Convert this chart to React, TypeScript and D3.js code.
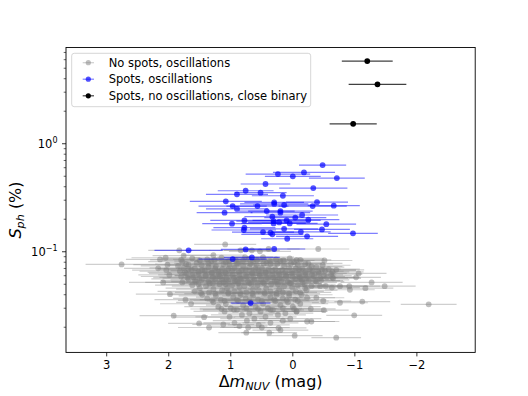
import * as d3 from 'd3';

// Blue: spots, oscillations
const blueX = [-0.48, 0.24, 0.0, -0.18, -0.71, 0.44, -0.33, 0.9, 0.76, 0.52, 0.16, 1.08, 0.97, 0.9, 1.1, 0.57, 0.3, 0.3, 0.14, 0.42, 0.2, 0.2, -0.39, -0.32, -0.66, -0.15, -0.04, 0.33, 0.98, 0.78, 0.78, 0.31, 0.31, 0.22, 0.1, 0.05, -0.25, -0.54, 0.79, 0.48, 0.36, 0.33, 0.14, -0.13, -0.23, -0.47, -0.97, 0.09, 1.68, 0.76, 0.3, 0.97, 0.66, 0.68];
const blueY = [0.635, 0.524, 0.499, 0.543, 0.481, 0.424, 0.389, 0.34, 0.367, 0.352, 0.33, 0.293, 0.265, 0.249, 0.23, 0.265, 0.287, 0.277, 0.271, 0.238, 0.238, 0.23, 0.288, 0.265, 0.267, 0.219, 0.207, 0.211, 0.182, 0.195, 0.167, 0.192, 0.183, 0.187, 0.195, 0.183, 0.198, 0.18, 0.159, 0.152, 0.15, 0.145, 0.163, 0.153, 0.139, 0.161, 0.148, 0.132, 0.103, 0.105, 0.106, 0.0856, 0.0887, 0.0335];
const blueErr = [0.38, 0.52, 0.45, 0.5, 0.45, 0.4, 0.55, 0.5, 0.45, 0.42, 0.5, 0.58, 0.55, 0.5, 0.45, 0.5, 0.48, 0.55, 0.5, 0.45, 0.52, 0.48, 0.5, 0.55, 0.42, 0.58, 0.5, 0.45, 0.48, 0.55, 0.5, 0.6, 0.52, 0.5, 0.55, 0.45, 0.5, 0.48, 0.52, 0.5, 0.45, 0.5, 0.55, 0.48, 0.5, 0.45, 0.4, 0.42, 0.55, 0.4, 0.5, 0.55, 0.45, 0.32];

// Black: spots, no oscillations, close binary
const blackX = [-1.2, -1.365, -0.973];
const blackY = [5.83, 3.55, 1.53];
const blackErr = [0.41, 0.465, 0.38];

// Gray: no spots, oscillations (rows of the dense cloud, then the scattered ones)
const grayX = [
  1.62, 1.38, 1.15, 0.92, 0.71, 0.48, 0.27, 0.05, -0.12,
  1.78, 1.55, 1.31, 1.08, 0.88, 0.64, 0.42, 0.2, -0.02, -0.25,
  1.5, 1.26, 1.03, 0.8, 0.58, 0.37, 0.15, -0.06,
  1.72, 1.36, 1.12, 0.9, 0.68, 0.47, 0.25, 0.03, -0.2,
  1.85, 1.68, 1.47, 1.24, 1.02, 0.8, 0.58, 0.36, 0.14, -0.08, -0.3, -0.48,
  1.76, 1.58, 1.36, 1.14, 0.94, 0.7, 0.5, 0.28, 0.06, -0.15, -0.38, -0.58,
  1.68, 1.46, 1.25, 1.04, 0.82, 0.6, 0.39, 0.17, -0.05, -0.27, -0.47,
  1.82, 1.63, 1.42, 1.2, 0.98, 0.76, 0.55, 0.33, 0.12, -0.1, -0.32, -0.52,
  1.72, 1.52, 1.3, 1.08, 0.86, 0.65, 0.44, 0.22, 0.0, -0.2, -0.42, -0.62,
  1.62, 1.41, 1.19, 0.97, 0.76, 0.54, 0.33, 0.11, -0.1, -0.31, -0.5,
  1.8, 1.6, 1.4, 1.17, 0.95, 0.74, 0.53, 0.31, 0.1, -0.12, -0.34, -0.55,
  1.68, 1.47, 1.25, 1.04, 0.83, 0.62, 0.4, 0.18, -0.04, -0.26, -0.46,
  1.58, 1.36, 1.14, 0.93, 0.72, 0.51, 0.29, 0.08, -0.14, -0.36,
  1.78, 1.56, 1.34, 1.12, 0.9, 0.7, 0.48, 0.26, 0.05, -0.16, -0.38,
  1.52, 1.29, 1.08, 0.88, 0.67, 0.46, 0.24, 0.03, -0.19,
  1.62, 1.4, 1.18, 0.98, 0.78, 0.57, 0.35, 0.14, -0.08, -0.3,
  1.5, 1.28, 1.06, 0.86, 0.64, 0.43, 0.22, 0.01, -0.2,
  1.58, 1.35, 1.14, 0.94, 0.75, 0.55, 0.36, 0.16, -0.05, -0.22,
  1.46, 1.24, 1.04, 0.84, 0.64, 0.45, 0.26, 0.06, -0.14,
  1.38, 1.16, 0.96, 0.76, 0.56, 0.36, 0.16, -0.04,
  1.28, 1.08, 0.88, 0.68, 0.48, 0.28, 0.08, -0.12,
  1.2, 1.0, 0.8, 0.6, 0.4, 0.2, 0.0,
  1.1, 0.9, 0.7, 0.52, 0.32, 0.12, -0.06,
  1.02, 0.82, 0.62, 0.44, 0.24, 0.04,
  0.94, 0.74, 0.55, 0.36, 0.16,
  1.48, 1.25, 1.04, 0.85, 0.65, 0.46, 0.26, 0.06, -0.12,
  1.3, 1.1, 0.9, 0.7, 0.5, 0.3, 0.1, -0.08,
  1.15, 0.95, 0.75, 0.56, 0.36, 0.16, -0.02,
  1.74, 1.52, 1.31, 1.09, 0.87, 0.66, 0.44, 0.23, 0.02, -0.2, -0.41,
  1.7, 1.5, 1.29, 1.07, 0.85, 0.64, 0.43, 0.21, 0.0, -0.22, -0.44,
  2.76, 1.09, -0.41, -0.51, -0.7, -0.64, -0.64, -1.06, -1.02, -1.27,
  -1.48, -0.91, -0.76, -1.17, -0.92, -1.12, -0.76, -0.49, -2.19, -0.99,
  -0.5, -0.7, -0.03, 0.75, 0.38, 1.35, 1.51, 1.92, 1.98, 1.43,
  1.73, 1.64, 1.83, 2.14, 2.05, 2.17, 2.09, 2.04, 1.99, 0.84,
  0.66, 0.39, 0.53, 1.28, 0.77, -0.23, -0.38, -0.3, -0.23, -0.29,
  -0.06, 0.2, 0.23, 0.86, 1.12, 0.72, 0.5, -0.44, -0.53, -0.63,
  -0.65, -0.11, 1.8, 1.76, 2.02,
];
const grayY = [
  0.087, 0.085, 0.088, 0.084, 0.086, 0.089, 0.085, 0.087, 0.084,
  0.081, 0.079, 0.082, 0.08, 0.078, 0.081, 0.079, 0.082, 0.08, 0.078,
  0.083, 0.084, 0.082, 0.083, 0.084, 0.082, 0.083, 0.084,
  0.077, 0.078, 0.077, 0.078, 0.077, 0.078, 0.077, 0.078, 0.077,
  0.074, 0.076, 0.075, 0.073, 0.076, 0.074, 0.075, 0.077, 0.074, 0.076, 0.073, 0.075,
  0.071, 0.07, 0.072, 0.069, 0.071, 0.072, 0.07, 0.069, 0.071, 0.07, 0.072, 0.069,
  0.069, 0.068, 0.07, 0.069, 0.068, 0.07, 0.069, 0.068, 0.07, 0.069, 0.068,
  0.066, 0.068, 0.067, 0.065, 0.067, 0.068, 0.066, 0.067, 0.065, 0.068, 0.066, 0.067,
  0.063, 0.062, 0.064, 0.063, 0.061, 0.063, 0.064, 0.062, 0.063, 0.061, 0.063, 0.062,
  0.061, 0.06, 0.062, 0.061, 0.06, 0.062, 0.061, 0.06, 0.062, 0.061, 0.06,
  0.059, 0.058, 0.06, 0.059, 0.057, 0.059, 0.06, 0.058, 0.059, 0.057, 0.059, 0.058,
  0.056, 0.055, 0.056, 0.054, 0.056, 0.055, 0.057, 0.055, 0.056, 0.054, 0.055,
  0.054, 0.053, 0.055, 0.054, 0.053, 0.055, 0.054, 0.053, 0.055, 0.054,
  0.052, 0.053, 0.051, 0.052, 0.053, 0.051, 0.052, 0.053, 0.051, 0.052, 0.053,
  0.05, 0.051, 0.05, 0.051, 0.05, 0.051, 0.05, 0.051, 0.05,
  0.049, 0.048, 0.05, 0.049, 0.048, 0.049, 0.05, 0.048, 0.049, 0.048,
  0.046, 0.045, 0.046, 0.047, 0.045, 0.046, 0.045, 0.047, 0.046,
  0.043, 0.042, 0.044, 0.043, 0.042, 0.044, 0.043, 0.042, 0.043, 0.044,
  0.04, 0.039, 0.041, 0.04, 0.039, 0.041, 0.04, 0.039, 0.04,
  0.037, 0.036, 0.038, 0.037, 0.036, 0.038, 0.037, 0.036,
  0.034, 0.033, 0.035, 0.034, 0.033, 0.035, 0.034, 0.033,
  0.031, 0.03, 0.032, 0.031, 0.03, 0.032, 0.031,
  0.028, 0.029, 0.027, 0.028, 0.029, 0.027, 0.028,
  0.025, 0.026, 0.024, 0.025, 0.026, 0.024,
  0.022, 0.023, 0.021, 0.022, 0.023,
  0.0415, 0.041, 0.042, 0.0415, 0.041, 0.042, 0.0415, 0.041, 0.042,
  0.0355, 0.035, 0.036, 0.0355, 0.035, 0.036, 0.0355, 0.035,
  0.0295, 0.029, 0.03, 0.0295, 0.029, 0.03, 0.0295,
  0.0645, 0.065, 0.064, 0.0645, 0.065, 0.064, 0.0645, 0.065, 0.064, 0.0645, 0.065,
  0.0575, 0.057, 0.058, 0.0575, 0.057, 0.058, 0.0575, 0.057, 0.058, 0.0575, 0.057,
  0.0764, 0.117, 0.106, 0.083, 0.068, 0.065, 0.058, 0.063, 0.058, 0.052,
  0.048, 0.048, 0.048, 0.046, 0.0445, 0.0346, 0.0337, 0.035, 0.0326, 0.0258,
  0.0288, 0.016, 0.0167, 0.0178, 0.0178, 0.0199, 0.0217, 0.0256, 0.0405, 0.0248,
  0.036, 0.033, 0.103, 0.085, 0.088, 0.0702, 0.052, 0.0677, 0.061, 0.103,
  0.103, 0.106, 0.101, 0.093, 0.089, 0.0375, 0.0375, 0.0226, 0.0226, 0.0296,
  0.028, 0.0188, 0.0197, 0.0205, 0.0212, 0.0199, 0.0199, 0.048, 0.0483, 0.0466,
  0.0567, 0.0583, 0.084, 0.092, 0.076,
];
const grayErr = [
  0.5, 0.55, 0.45, 0.5, 0.6, 0.5, 0.45, 0.55, 0.5,
  0.55, 0.5, 0.6, 0.45, 0.5, 0.55, 0.5, 0.45, 0.5, 0.55,
  0.6, 0.5, 0.55, 0.45, 0.5, 0.55, 0.5, 0.45,
  0.5, 0.55, 0.5, 0.6, 0.45, 0.5, 0.55, 0.5, 0.45,
  0.6, 0.5, 0.55, 0.5, 0.45, 0.55, 0.5, 0.6, 0.5, 0.45, 0.5, 0.45,
  0.55, 0.6, 0.5, 0.55, 0.5, 0.45, 0.55, 0.5, 0.6, 0.5, 0.45, 0.5,
  0.5, 0.55, 0.6, 0.5, 0.45, 0.5, 0.55, 0.5, 0.45, 0.5, 0.55,
  0.65, 0.5, 0.55, 0.5, 0.6, 0.5, 0.45, 0.55, 0.5, 0.45, 0.5, 0.5,
  0.6, 0.55, 0.5, 0.6, 0.5, 0.55, 0.45, 0.5, 0.55, 0.5, 0.45, 0.5,
  0.55, 0.5, 0.6, 0.5, 0.55, 0.5, 0.45, 0.5, 0.55, 0.5, 0.45,
  0.65, 0.55, 0.5, 0.55, 0.5, 0.6, 0.5, 0.55, 0.45, 0.5, 0.5, 0.45,
  0.6, 0.5, 0.55, 0.5, 0.6, 0.5, 0.55, 0.5, 0.45, 0.5, 0.45,
  0.55, 0.6, 0.5, 0.55, 0.5, 0.45, 0.55, 0.5, 0.5, 0.45,
  0.6, 0.55, 0.5, 0.6, 0.5, 0.55, 0.5, 0.45, 0.5, 0.55, 0.45,
  0.55, 0.5, 0.6, 0.5, 0.55, 0.5, 0.45, 0.5, 0.5,
  0.6, 0.55, 0.5, 0.55, 0.6, 0.5, 0.55, 0.5, 0.45, 0.5,
  0.55, 0.6, 0.5, 0.55, 0.5, 0.55, 0.5, 0.45, 0.5,
  0.6, 0.55, 0.5, 0.55, 0.5, 0.6, 0.5, 0.55, 0.45, 0.5,
  0.55, 0.6, 0.5, 0.55, 0.5, 0.55, 0.5, 0.45, 0.5,
  0.55, 0.5, 0.6, 0.5, 0.55, 0.5, 0.45, 0.5,
  0.6, 0.55, 0.5, 0.55, 0.5, 0.55, 0.5, 0.45,
  0.55, 0.5, 0.6, 0.5, 0.55, 0.5, 0.45,
  0.5, 0.55, 0.5, 0.6, 0.5, 0.45, 0.5,
  0.55, 0.5, 0.55, 0.5, 0.45, 0.5,
  0.5, 0.55, 0.5, 0.45, 0.5,
  0.55, 0.5, 0.6, 0.5, 0.55, 0.5, 0.45, 0.5, 0.5,
  0.55, 0.5, 0.6, 0.5, 0.55, 0.5, 0.45, 0.5,
  0.5, 0.55, 0.5, 0.6, 0.5, 0.45, 0.5,
  0.6, 0.5, 0.55, 0.5, 0.6, 0.5, 0.55, 0.5, 0.45, 0.5, 0.5,
  0.55, 0.6, 0.5, 0.55, 0.5, 0.55, 0.5, 0.45, 0.5, 0.5, 0.45,
  0.58, 0.5, 0.5, 0.45, 0.45, 0.5, 0.45, 0.45, 0.4, 0.5,
  0.5, 0.5, 0.45, 0.45, 0.4, 0.45, 0.45, 0.45, 0.45, 0.45,
  0.4, 0.4, 0.45, 0.45, 0.45, 0.5, 0.5, 0.55, 0.55, 0.5,
  0.5, 0.5, 0.5, 0.55, 0.55, 0.55, 0.55, 0.55, 0.5, 0.5,
  0.45, 0.5, 0.5, 0.5, 0.45, 0.45, 0.45, 0.45, 0.45, 0.4,
  0.45, 0.45, 0.45, 0.45, 0.5, 0.45, 0.45, 0.45, 0.45, 0.45,
  0.45, 0.45, 0.5, 0.5, 0.55,
];

const legendLabels = ['No spots, oscillations', 'Spots, oscillations', 'Spots, no oscillations, close binary'];
const xTicks = [3, 2, 1, 0, -1, -2];
const yMajor = [0.1, 1];

const font = 'DejaVu Sans, sans-serif';

export default function App() {
  const width = 528;
  const height = 396;
  const plot = { left: 66, right: 475.2, top: 47.5, bottom: 352.4 };

  // inverted x axis, log y axis
  const x = d3.scaleLinear().domain([3.656, -2.94]).range([plot.left, plot.right]);
  const y = d3.scaleLog().domain([0.0117, 7.78]).range([plot.bottom, plot.top]);

  const yMinor: number[] = [];
  [0.01, 0.1, 1].forEach((base) => {
    for (let k = 2; k <= 9; k++) {
      const v = base * k;
      if (v > y.domain()[0] && v < y.domain()[1]) yMinor.push(v);
    }
  });

  const series = [
    { xs: grayX, ys: grayY, es: grayErr, color: 'gray', mAlpha: 0.5, lAlpha: 0.38 },
    { xs: blueX, ys: blueY, es: blueErr, color: 'blue', mAlpha: 0.68, lAlpha: 0.5 },
    { xs: blackX, ys: blackY, es: blackErr, color: 'black', mAlpha: 1, lAlpha: 0.75 },
  ];

  const legendRows = [62.7, 79.2, 95.8];

  return (
    <svg width={width} height={height} style={{ position: 'absolute', left: 0, top: 0, background: '#fff' }} fontFamily={font}>
      <defs>
        <clipPath id='plotClip'>
          <rect x={plot.left} y={plot.top} width={plot.right - plot.left} height={plot.bottom - plot.top} />
        </clipPath>
      </defs>

      {/* Error bars and markers for each group */}
      <g clipPath='url(#plotClip)'>
        {series.map((s, si) => (
          <g key={si}>
            {s.xs.map((xv, i) =>
              s.ys[i] === undefined ? null : (
                <line
                  key={'e' + i}
                  x1={x(xv + (s.es[i] ?? 0.5))}
                  x2={x(xv - (s.es[i] ?? 0.5))}
                  y1={y(s.ys[i])}
                  y2={y(s.ys[i])}
                  stroke={s.color}
                  strokeOpacity={s.lAlpha}
                  strokeWidth={1.2}
                />
              ),
            )}
            {s.xs.map((xv, i) =>
              s.ys[i] === undefined ? null : (
                <circle key={'m' + i} cx={x(xv)} cy={y(s.ys[i])} r={2.9} fill={s.color} fillOpacity={s.mAlpha} />
              ),
            )}
          </g>
        ))}
      </g>

      {/* Frame */}
      <rect
        x={plot.left}
        y={plot.top}
        width={plot.right - plot.left}
        height={plot.bottom - plot.top}
        fill='none'
        stroke='black'
        strokeWidth={0.9}
      />

      {/* x axis */}
      {xTicks.map((t) => (
        <g key={'xt' + t}>
          <line x1={x(t)} x2={x(t)} y1={plot.bottom} y2={plot.bottom + 4} stroke='black' strokeWidth={0.8} />
          <text x={x(t)} y={368.8} fontSize={11.5} textAnchor='middle'>
            {t < 0 ? '\u2212' + Math.abs(t) : t}
          </text>
        </g>
      ))}

      {/* y axis */}
      {yMajor.map((t) => (
        <g key={'ym' + t}>
          <line x1={plot.left - 4} x2={plot.left} y1={y(t)} y2={y(t)} stroke='black' strokeWidth={0.8} />
          <text x={57.5} y={y(t) + 4} fontSize={11.5} textAnchor='end'>
            10
            <tspan dy={-5} fontSize={8}>
              {t === 1 ? '0' : '\u22121'}
            </tspan>
          </text>
        </g>
      ))}
      {yMinor.map((t) => (
        <line key={'yn' + t} x1={plot.left - 2.3} x2={plot.left} y1={y(t)} y2={y(t)} stroke='black' strokeWidth={0.6} />
      ))}

      {/* Axis labels */}
      <text x={(plot.left + plot.right) / 2} y={387} fontSize={16} textAnchor='middle'>
        Δ<tspan fontStyle='italic'>m</tspan>
        <tspan fontStyle='italic' fontSize={11.2} dy={3}>
          NUV
        </tspan>
        <tspan dy={-3}> (mag)</tspan>
      </text>
      <text transform='translate(21,210) rotate(-90)' fontSize={16} textAnchor='middle'>
        <tspan fontStyle='italic'>S</tspan>
        <tspan fontStyle='italic' fontSize={11.2} dy={3}>
          ph
        </tspan>
        <tspan dy={-3}> (%)</tspan>
      </text>

      {/* Legend */}
      <rect x={71.7} y={53.3} width={239} height={53.4} rx={2.5} fill='white' fillOpacity={0.8} stroke='#cccccc' strokeWidth={0.8} />
      {legendLabels.map((label, i) => (
        <g key={label}>
          <line x1={82.7} x2={94} y1={legendRows[i]} y2={legendRows[i]} stroke={series[i].color} strokeOpacity={series[i].lAlpha} strokeWidth={1.2} />
          <circle cx={88.3} cy={legendRows[i]} r={2.6} fill={series[i].color} fillOpacity={series[i].mAlpha} />
          <text x={108.7} y={legendRows[i] + 4} fontSize={11.5}>
            {label}
          </text>
        </g>
      ))}
    </svg>
  );
}
